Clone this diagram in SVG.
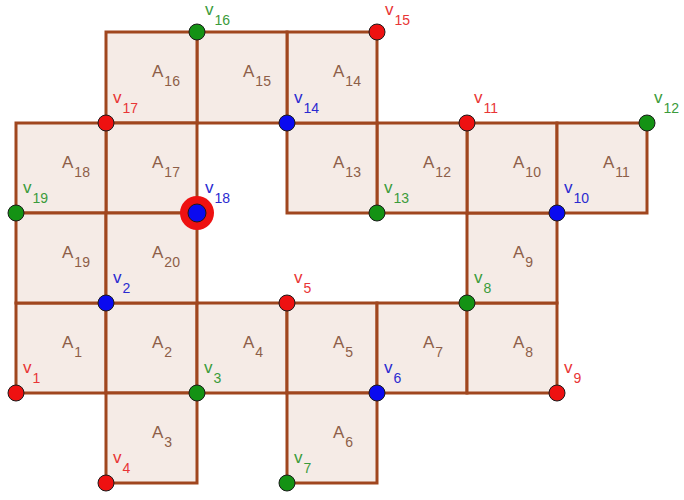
<svg xmlns="http://www.w3.org/2000/svg" width="684" height="500" viewBox="0 0 684 500">
<style>
.sq{fill:#f5ebe6;stroke:#a0461e;stroke-width:3}
.al{font-family:"Liberation Sans",Arial,sans-serif;font-size:17px;fill:#8d5e48}
.vl{font-family:"Liberation Sans",Arial,sans-serif;font-size:17px}
.s{font-size:14px}
.dot{stroke:#1a1a1a;stroke-width:1}
.r{fill:#ee1111}.g{fill:#149214}.b{fill:#0a0af0}
.rt{fill:#e83535}.gt{fill:#3b9b3b}.bt{fill:#2a2ad0}
</style>
<rect width="684" height="500" fill="#ffffff"/>
<g id="squares">
<g id="A1"><rect class="sq" x="16" y="303" width="90" height="90"/><text class="al" x="62" y="348">A<tspan class="s" dx="1" dy="9">1</tspan></text></g>
<g id="A2"><rect class="sq" x="106" y="303" width="91" height="90"/><text class="al" x="152" y="348">A<tspan class="s" dx="1" dy="9">2</tspan></text></g>
<g id="A3"><rect class="sq" x="106" y="393" width="91" height="90"/><text class="al" x="152" y="438">A<tspan class="s" dx="1" dy="9">3</tspan></text></g>
<g id="A4"><rect class="sq" x="197" y="303" width="90" height="90"/><text class="al" x="243" y="348">A<tspan class="s" dx="1" dy="9">4</tspan></text></g>
<g id="A5"><rect class="sq" x="287" y="303" width="90" height="90"/><text class="al" x="333" y="348">A<tspan class="s" dx="1" dy="9">5</tspan></text></g>
<g id="A6"><rect class="sq" x="287" y="393" width="90" height="90"/><text class="al" x="333" y="438">A<tspan class="s" dx="1" dy="9">6</tspan></text></g>
<g id="A7"><rect class="sq" x="377" y="303" width="90" height="90"/><text class="al" x="423" y="348">A<tspan class="s" dx="1" dy="9">7</tspan></text></g>
<g id="A8"><rect class="sq" x="467" y="303" width="90" height="90"/><text class="al" x="513" y="348">A<tspan class="s" dx="1" dy="9">8</tspan></text></g>
<g id="A9"><rect class="sq" x="467" y="213" width="90" height="90"/><text class="al" x="513" y="258">A<tspan class="s" dx="1" dy="9">9</tspan></text></g>
<g id="A10"><rect class="sq" x="467" y="123" width="90" height="90"/><text class="al" x="513" y="168">A<tspan class="s" dx="1" dy="9">10</tspan></text></g>
<g id="A11"><rect class="sq" x="557" y="123" width="90" height="90"/><text class="al" x="603" y="168">A<tspan class="s" dx="1" dy="9">11</tspan></text></g>
<g id="A12"><rect class="sq" x="377" y="123" width="90" height="90"/><text class="al" x="423" y="168">A<tspan class="s" dx="1" dy="9">12</tspan></text></g>
<g id="A13"><rect class="sq" x="287" y="123" width="90" height="90"/><text class="al" x="333" y="168">A<tspan class="s" dx="1" dy="9">13</tspan></text></g>
<g id="A14"><rect class="sq" x="287" y="32" width="90" height="91"/><text class="al" x="333" y="77">A<tspan class="s" dx="1" dy="9">14</tspan></text></g>
<g id="A15"><rect class="sq" x="197" y="32" width="90" height="91"/><text class="al" x="243" y="77">A<tspan class="s" dx="1" dy="9">15</tspan></text></g>
<g id="A16"><rect class="sq" x="106" y="32" width="91" height="91"/><text class="al" x="152" y="77">A<tspan class="s" dx="1" dy="9">16</tspan></text></g>
<g id="A17"><rect class="sq" x="106" y="123" width="91" height="90"/><text class="al" x="152" y="168">A<tspan class="s" dx="1" dy="9">17</tspan></text></g>
<g id="A18"><rect class="sq" x="16" y="123" width="90" height="90"/><text class="al" x="62" y="168">A<tspan class="s" dx="1" dy="9">18</tspan></text></g>
<g id="A19"><rect class="sq" x="16" y="213" width="90" height="90"/><text class="al" x="62" y="258">A<tspan class="s" dx="1" dy="9">19</tspan></text></g>
<g id="A20"><rect class="sq" x="106" y="213" width="91" height="90"/><text class="al" x="152" y="258">A<tspan class="s" dx="1" dy="9">20</tspan></text></g>
</g>
<g id="connectors"></g>
<g id="vertices">
<g id="v1"><circle class="dot r" cx="16" cy="393" r="8"/><text class="vl rt" x="23" y="373">v<tspan class="s" dx="1" dy="10">1</tspan></text></g>
<g id="v2"><circle class="dot b" cx="106" cy="303" r="8"/><text class="vl bt" x="113" y="283">v<tspan class="s" dx="1" dy="10">2</tspan></text></g>
<g id="v3"><circle class="dot g" cx="197" cy="393" r="8"/><text class="vl gt" x="204" y="373">v<tspan class="s" dx="1" dy="10">3</tspan></text></g>
<g id="v4"><circle class="dot r" cx="106" cy="483" r="8"/><text class="vl rt" x="113" y="463">v<tspan class="s" dx="1" dy="10">4</tspan></text></g>
<g id="v5"><circle class="dot r" cx="287" cy="303" r="8"/><text class="vl rt" x="294" y="283">v<tspan class="s" dx="1" dy="10">5</tspan></text></g>
<g id="v6"><circle class="dot b" cx="377" cy="393" r="8"/><text class="vl bt" x="384" y="373">v<tspan class="s" dx="1" dy="10">6</tspan></text></g>
<g id="v7"><circle class="dot g" cx="287" cy="483" r="8"/><text class="vl gt" x="294" y="463">v<tspan class="s" dx="1" dy="10">7</tspan></text></g>
<g id="v8"><circle class="dot g" cx="467" cy="303" r="8"/><text class="vl gt" x="474" y="283">v<tspan class="s" dx="1" dy="10">8</tspan></text></g>
<g id="v9"><circle class="dot r" cx="557" cy="393" r="8"/><text class="vl rt" x="564" y="373">v<tspan class="s" dx="1" dy="10">9</tspan></text></g>
<g id="v10"><circle class="dot b" cx="557" cy="213" r="8"/><text class="vl bt" x="564" y="193">v<tspan class="s" dx="1" dy="10">10</tspan></text></g>
<g id="v11"><circle class="dot r" cx="467" cy="123" r="8"/><text class="vl rt" x="474" y="103">v<tspan class="s" dx="1" dy="10">11</tspan></text></g>
<g id="v12"><circle class="dot g" cx="647" cy="123" r="8"/><text class="vl gt" x="654" y="103">v<tspan class="s" dx="1" dy="10">12</tspan></text></g>
<g id="v13"><circle class="dot g" cx="377" cy="213" r="8"/><text class="vl gt" x="384" y="193">v<tspan class="s" dx="1" dy="10">13</tspan></text></g>
<g id="v14"><circle class="dot b" cx="287" cy="123" r="8"/><text class="vl bt" x="294" y="103">v<tspan class="s" dx="1" dy="10">14</tspan></text></g>
<g id="v15"><circle class="dot r" cx="377" cy="32" r="8"/><text class="vl rt" x="385" y="15">v<tspan class="s" dx="1" dy="10">15</tspan></text></g>
<g id="v16"><circle class="dot g" cx="197" cy="32" r="8"/><text class="vl gt" x="205" y="15">v<tspan class="s" dx="1" dy="10">16</tspan></text></g>
<g id="v17"><circle class="dot r" cx="106" cy="123" r="8"/><text class="vl rt" x="113" y="103">v<tspan class="s" dx="1" dy="10">17</tspan></text></g>
<g id="v18"><circle cx="197" cy="213" r="17" fill="#ee1111"/><circle class="dot b" cx="197" cy="213" r="9"/><text class="vl bt" x="205" y="193">v<tspan class="s" dx="1" dy="10">18</tspan></text></g>
<g id="v19"><circle class="dot g" cx="16" cy="213" r="8"/><text class="vl gt" x="23" y="193">v<tspan class="s" dx="1" dy="10">19</tspan></text></g>
</g>
</svg>
